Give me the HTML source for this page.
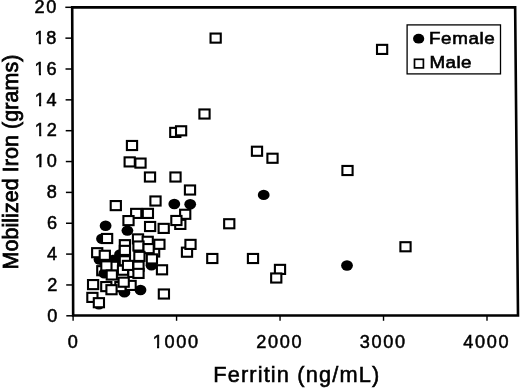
<!DOCTYPE html><html><head><meta charset="utf-8"><title>Ferritin vs Mobilized Iron</title>
<style>html,body{margin:0;padding:0;background:#fff}svg{display:block}text{font-family:"Liberation Sans",Arial,Helvetica,sans-serif;fill:#000}</style></head><body>
<svg width="520" height="388" viewBox="0 0 520 388">
<rect width="520" height="388" fill="#fff"/>
<polygon points="72.2,7.4 515.15,7.4 518,315.45 73.15,315.45" fill="none" stroke="#000" stroke-width="2.6" stroke-linejoin="miter"/>
<line x1="66.30" x2="73.15" y1="315.80" y2="315.80" stroke="#000" stroke-width="1.5"/>
<text transform="translate(47.33,321.55) scale(1.03,1)" font-size="17.6" letter-spacing="1.67" text-anchor="start" stroke="#000" stroke-width="0.5" >0</text>
<line x1="66.20" x2="73.05" y1="284.95" y2="284.95" stroke="#000" stroke-width="1.5"/>
<text transform="translate(47.21,290.70) scale(1.03,1)" font-size="17.6" letter-spacing="1.67" text-anchor="start" stroke="#000" stroke-width="0.5" >2</text>
<line x1="66.10" x2="72.96" y1="254.10" y2="254.10" stroke="#000" stroke-width="1.5"/>
<text transform="translate(47.10,259.85) scale(1.03,1)" font-size="17.6" letter-spacing="1.67" text-anchor="start" stroke="#000" stroke-width="0.5" >4</text>
<line x1="66.00" x2="72.86" y1="223.25" y2="223.25" stroke="#000" stroke-width="1.5"/>
<text transform="translate(46.98,229.00) scale(1.03,1)" font-size="17.6" letter-spacing="1.67" text-anchor="start" stroke="#000" stroke-width="0.5" >6</text>
<line x1="65.91" x2="72.76" y1="192.40" y2="192.40" stroke="#000" stroke-width="1.5"/>
<text transform="translate(46.87,198.15) scale(1.03,1)" font-size="17.6" letter-spacing="1.67" text-anchor="start" stroke="#000" stroke-width="0.5" >8</text>
<line x1="65.81" x2="72.66" y1="161.55" y2="161.55" stroke="#000" stroke-width="1.5"/>
<clipPath id="c1"><path clip-rule="evenodd" d="M31.95 150.30H61.55V172.30H31.95ZM35.25 164.90H39.25V168.80H35.25ZM41.38 164.90H45.16V168.80H41.38Z"/></clipPath>
<g clip-path="url(#c1)">
<text transform="translate(34.95,167.30) scale(1.03,1)" font-size="17.6" letter-spacing="1.67" text-anchor="start" stroke="#000" stroke-width="0.5" >10</text>
</g>
<line x1="65.71" x2="72.57" y1="130.70" y2="130.70" stroke="#000" stroke-width="1.5"/>
<clipPath id="c2"><path clip-rule="evenodd" d="M31.84 119.45H61.44V141.45H31.84ZM35.14 134.05H39.14V137.95H35.14ZM41.26 134.05H45.04V137.95H41.26Z"/></clipPath>
<g clip-path="url(#c2)">
<text transform="translate(34.84,136.45) scale(1.03,1)" font-size="17.6" letter-spacing="1.67" text-anchor="start" stroke="#000" stroke-width="0.5" >12</text>
</g>
<line x1="65.61" x2="72.47" y1="99.85" y2="99.85" stroke="#000" stroke-width="1.5"/>
<clipPath id="c3"><path clip-rule="evenodd" d="M31.72 88.60H61.32V110.60H31.72ZM35.02 103.20H39.02V107.10H35.02ZM41.14 103.20H44.92V107.10H41.14Z"/></clipPath>
<g clip-path="url(#c3)">
<text transform="translate(34.72,105.60) scale(1.03,1)" font-size="17.6" letter-spacing="1.67" text-anchor="start" stroke="#000" stroke-width="0.5" >14</text>
</g>
<line x1="65.51" x2="72.37" y1="69.00" y2="69.00" stroke="#000" stroke-width="1.5"/>
<clipPath id="c4"><path clip-rule="evenodd" d="M31.61 57.75H61.21V79.75H31.61ZM34.91 72.35H38.91V76.25H34.91ZM41.03 72.35H44.81V76.25H41.03Z"/></clipPath>
<g clip-path="url(#c4)">
<text transform="translate(34.61,74.75) scale(1.03,1)" font-size="17.6" letter-spacing="1.67" text-anchor="start" stroke="#000" stroke-width="0.5" >16</text>
</g>
<line x1="65.41" x2="72.28" y1="38.15" y2="38.15" stroke="#000" stroke-width="1.5"/>
<clipPath id="c5"><path clip-rule="evenodd" d="M31.49 26.90H61.09V48.90H31.49ZM34.79 41.50H38.79V45.40H34.79ZM40.91 41.50H44.69V45.40H40.91Z"/></clipPath>
<g clip-path="url(#c5)">
<text transform="translate(34.49,43.90) scale(1.03,1)" font-size="17.6" letter-spacing="1.67" text-anchor="start" stroke="#000" stroke-width="0.5" >18</text>
</g>
<line x1="65.31" x2="72.18" y1="7.30" y2="7.30" stroke="#000" stroke-width="1.5"/>
<text transform="translate(34.38,13.05) scale(1.03,1)" font-size="17.6" letter-spacing="1.67" text-anchor="start" stroke="#000" stroke-width="0.5" >20</text>
<line x1="73.10" x2="73.10" y1="315.5" y2="320.8" stroke="#000" stroke-width="1.4"/>
<text transform="translate(67.66,347.70) scale(1.03,1)" font-size="17.6" letter-spacing="1.67" text-anchor="start" stroke="#000" stroke-width="0.5" >0</text>
<line x1="176.57" x2="176.57" y1="315.5" y2="320.8" stroke="#000" stroke-width="1.4"/>
<clipPath id="c6"><path clip-rule="evenodd" d="M149.70 330.70H202.90V352.70H149.70ZM153.00 345.30H157.00V349.20H153.00ZM159.12 345.30H162.90V349.20H159.12Z"/></clipPath>
<g clip-path="url(#c6)">
<text transform="translate(152.70,347.70) scale(1.03,1)" font-size="17.6" letter-spacing="1.67" text-anchor="start" stroke="#000" stroke-width="0.5" >1000</text>
</g>
<line x1="280.05" x2="280.05" y1="315.5" y2="320.8" stroke="#000" stroke-width="1.4"/>
<text transform="translate(256.18,347.70) scale(1.03,1)" font-size="17.6" letter-spacing="1.67" text-anchor="start" stroke="#000" stroke-width="0.5" >2000</text>
<line x1="383.52" x2="383.52" y1="315.5" y2="320.8" stroke="#000" stroke-width="1.4"/>
<text transform="translate(359.65,347.70) scale(1.03,1)" font-size="17.6" letter-spacing="1.67" text-anchor="start" stroke="#000" stroke-width="0.5" >3000</text>
<line x1="487.00" x2="487.00" y1="315.5" y2="320.8" stroke="#000" stroke-width="1.4"/>
<text transform="translate(463.13,347.70) scale(1.03,1)" font-size="17.6" letter-spacing="1.67" text-anchor="start" stroke="#000" stroke-width="0.5" >4000</text>
<text transform="translate(213.20,381.90) scale(0.99,1)" font-size="22" letter-spacing="1.16" text-anchor="start" stroke="#000" stroke-width="0.55" >Ferritin (ng/mL)</text>
<text transform="translate(18.00,269.50) rotate(-90) scale(0.94,1)" font-size="22.8" letter-spacing="0.09" text-anchor="start" stroke="#000" stroke-width="0.8" >Mobilized Iron (grams)</text>
<rect x="407.1" y="24.9" width="93.4" height="49.0" fill="#fff" stroke="#000" stroke-width="1.3"/>
<ellipse cx="418.65" cy="38.7" rx="5.6" ry="4.9" fill="#000"/>
<rect x="414.5" y="59.3" width="8.9" height="8.6" fill="#fff" stroke="#000" stroke-width="1.7"/>
<text transform="translate(429.00,43.80) scale(1.12,1)" font-size="16.8" letter-spacing="0.55" text-anchor="start" stroke="#000" stroke-width="0.6" >Female</text>
<text transform="translate(429.40,68.00) scale(1.12,1)" font-size="16.8" letter-spacing="0.4" text-anchor="start" stroke="#000" stroke-width="0.6" >Male</text>
<g fill="#000">
<ellipse cx="174.3" cy="204" rx="5.9" ry="5.2"/>
<ellipse cx="190.2" cy="204.3" rx="5.9" ry="5.2"/>
<ellipse cx="105.6" cy="225.7" rx="5.9" ry="5.2"/>
<ellipse cx="127.4" cy="230.6" rx="5.9" ry="5.2"/>
<ellipse cx="102" cy="238.7" rx="5.9" ry="5.2"/>
<ellipse cx="120" cy="254.5" rx="5.9" ry="5.2"/>
<ellipse cx="99.5" cy="259.5" rx="5.9" ry="5.2"/>
<ellipse cx="151.5" cy="265.3" rx="5.9" ry="5.2"/>
<ellipse cx="124.4" cy="292.4" rx="5.9" ry="5.2"/>
<ellipse cx="140.5" cy="290" rx="5.9" ry="5.2"/>
<ellipse cx="263.7" cy="194.9" rx="5.9" ry="5.2"/>
<ellipse cx="347" cy="265.5" rx="5.9" ry="5.2"/>
<ellipse cx="113" cy="260" rx="5.9" ry="5.2"/>
<ellipse cx="104" cy="261" rx="5.9" ry="5.2"/>
<ellipse cx="98.9" cy="304.2" rx="5.9" ry="5.2"/>
<ellipse cx="118.5" cy="262" rx="5.9" ry="5.2"/>
</g><g fill="#fff" stroke="#000" stroke-width="2.1">
<rect x="210.55" y="33.55" width="10.2" height="9.1"/>
<rect x="377.00" y="44.85" width="10.2" height="9.1"/>
<rect x="199.40" y="109.45" width="10.2" height="9.1"/>
<rect x="170.20" y="127.85" width="10.2" height="9.1"/>
<rect x="176.00" y="126.25" width="10.2" height="9.1"/>
<rect x="126.90" y="140.95" width="10.2" height="9.1"/>
<rect x="124.60" y="157.35" width="10.2" height="9.1"/>
<rect x="135.40" y="158.55" width="10.2" height="9.1"/>
<rect x="251.90" y="146.70" width="10.2" height="9.1"/>
<rect x="267.40" y="153.70" width="10.2" height="9.1"/>
<rect x="144.90" y="172.45" width="10.2" height="9.1"/>
<rect x="170.40" y="172.45" width="10.2" height="9.1"/>
<rect x="342.40" y="165.95" width="10.2" height="9.1"/>
<rect x="184.90" y="185.45" width="10.2" height="9.1"/>
<rect x="150.40" y="196.45" width="10.2" height="9.1"/>
<rect x="110.70" y="201.05" width="10.2" height="9.1"/>
<rect x="131.10" y="208.85" width="10.2" height="9.1"/>
<rect x="142.80" y="208.85" width="10.2" height="9.1"/>
<rect x="180.10" y="209.75" width="10.2" height="9.1"/>
<rect x="175.20" y="219.85" width="10.2" height="9.1"/>
<rect x="171.30" y="215.95" width="10.2" height="9.1"/>
<rect x="123.40" y="216.05" width="10.2" height="9.1"/>
<rect x="224.15" y="219.20" width="10.2" height="9.1"/>
<rect x="145.00" y="221.95" width="10.2" height="9.1"/>
<rect x="158.60" y="223.85" width="10.2" height="9.1"/>
<rect x="400.40" y="242.20" width="10.2" height="9.1"/>
<rect x="207.20" y="253.95" width="10.2" height="9.1"/>
<rect x="247.90" y="253.95" width="10.2" height="9.1"/>
<rect x="274.90" y="264.85" width="10.2" height="9.1"/>
<rect x="271.15" y="273.45" width="10.2" height="9.1"/>
<rect x="181.90" y="247.65" width="10.2" height="9.1"/>
<rect x="185.40" y="239.85" width="10.2" height="9.1"/>
<rect x="158.80" y="289.45" width="10.2" height="9.1"/>
<rect x="102.00" y="233.95" width="10.2" height="9.1"/>
<rect x="132.90" y="234.35" width="10.2" height="9.1"/>
<rect x="142.60" y="236.75" width="10.2" height="9.1"/>
<rect x="119.80" y="240.15" width="10.2" height="9.1"/>
<rect x="133.40" y="241.45" width="10.2" height="9.1"/>
<rect x="149.00" y="247.45" width="10.2" height="9.1"/>
<rect x="154.30" y="239.75" width="10.2" height="9.1"/>
<rect x="143.50" y="244.05" width="10.2" height="9.1"/>
<rect x="119.80" y="245.85" width="10.2" height="9.1"/>
<rect x="92.10" y="248.15" width="10.2" height="9.1"/>
<rect x="99.70" y="250.75" width="10.2" height="9.1"/>
<rect x="119.80" y="256.25" width="10.2" height="9.1"/>
<rect x="134.30" y="251.85" width="10.2" height="9.1"/>
<rect x="146.80" y="254.35" width="10.2" height="9.1"/>
<rect x="97.20" y="266.15" width="10.2" height="9.1"/>
<ellipse cx="104.3" cy="273.4" rx="5.9" ry="5.2" fill="#000" stroke="none"/>
<rect x="107.90" y="261.75" width="10.2" height="9.1"/>
<rect x="101.30" y="261.35" width="10.2" height="9.1"/>
<rect x="117.90" y="265.65" width="10.2" height="9.1"/>
<rect x="128.30" y="267.85" width="10.2" height="9.1"/>
<rect x="122.90" y="260.85" width="10.2" height="9.1"/>
<rect x="133.40" y="261.65" width="10.2" height="9.1"/>
<rect x="156.90" y="265.25" width="10.2" height="9.1"/>
<rect x="106.70" y="270.45" width="10.2" height="9.1"/>
<rect x="133.40" y="268.85" width="10.2" height="9.1"/>
<rect x="101.20" y="282.05" width="10.2" height="9.1"/>
<rect x="125.50" y="280.85" width="10.2" height="9.1"/>
<rect x="115.30" y="282.05" width="10.2" height="9.1"/>
<rect x="118.60" y="277.65" width="10.2" height="9.1"/>
<rect x="106.40" y="285.15" width="10.2" height="9.1"/>
<rect x="88.00" y="280.05" width="10.2" height="9.1"/>
<rect x="87.30" y="292.85" width="10.2" height="9.1"/>
<rect x="93.80" y="298.15" width="10.2" height="9.1"/>
</g></svg></body></html>
